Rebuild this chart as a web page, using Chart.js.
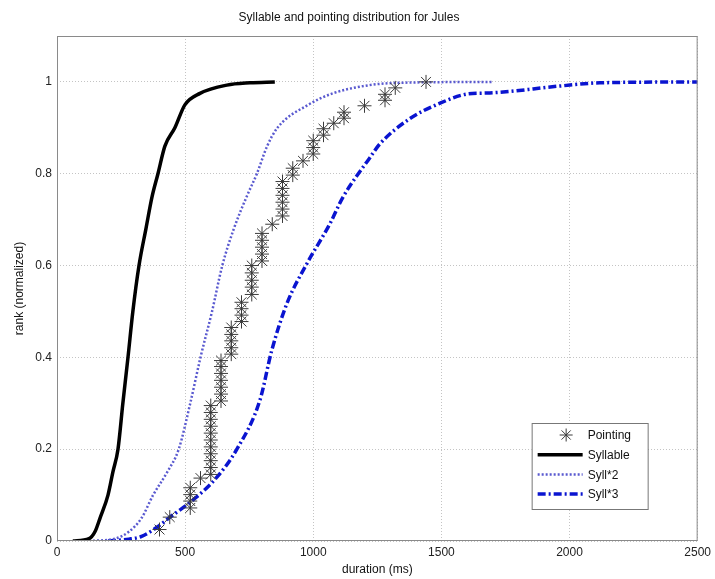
<!DOCTYPE html>
<html>
<head>
<meta charset="utf-8">
<script src="https://cdn.jsdelivr.net/npm/chart.js@4.4.0/dist/chart.umd.min.js"></script>
<style>
  body { margin: 0; background: #fff; }
  #wrap { width: 715px; height: 579px; }
</style>
</head>
<body>
<div id="wrap"><canvas id="myChart"></canvas></div>
<script>
// durations (ms) and normalized ranks
var syllX = [62, 125, 148, 168, 199, 218, 238, 257, 277, 296, 320, 347, 371, 394, 421, 460, 499, 558, 663, 753, 850];
var syllY = [0, 0.005, 0.02, 0.05, 0.1, 0.15, 0.2, 0.3, 0.4, 0.5, 0.6, 0.68, 0.75, 0.8, 0.86, 0.9, 0.95, 0.975, 0.993, 0.998, 1.0];

var syll2X = [125, 225, 280, 330, 375, 430, 475, 520, 560, 605, 645, 690, 740, 780, 820, 860, 980, 1076, 1220, 1330, 1700];
var syll2Y = [0, 0.005, 0.02, 0.05, 0.1, 0.15, 0.2, 0.3, 0.4, 0.5, 0.6, 0.68, 0.75, 0.8, 0.86, 0.9, 0.95, 0.975, 0.993, 0.998, 1.0];

var syll3X = [199, 280, 330, 390, 441, 530, 624, 702, 792, 838, 897, 975, 1065, 1115, 1221, 1260, 1377, 1488, 1605, 1689, 1962, 2118, 2500];
var syll3Y = [0, 0.004, 0.01, 0.03, 0.052, 0.089, 0.139, 0.2, 0.307, 0.415, 0.517, 0.604, 0.691, 0.748, 0.835, 0.865, 0.92, 0.952, 0.974, 0.976, 0.991, 0.998, 1.0];

var pointX = [400, 440, 520, 520, 520, 520, 560,
  600, 600, 600, 600, 600, 600, 600, 600, 600, 600, 600,
  640, 640, 640, 640, 640, 640, 640,
  680, 680, 680, 680, 680,
  720, 720, 720, 720,
  760, 760, 760, 760, 760,
  800, 800, 800, 800, 800,
  840,
  880, 880, 880, 880, 880, 880,
  920, 920, 960, 1000, 1000, 1000, 1040, 1040, 1080, 1120, 1120,
  1200, 1280, 1280, 1320, 1440];
var pointY = [0.025, 0.052, 0.072, 0.087, 0.101, 0.116, 0.137,
  0.145, 0.160, 0.175, 0.190, 0.205, 0.220, 0.235, 0.250, 0.265, 0.280, 0.295,
  0.305, 0.320, 0.335, 0.350, 0.365, 0.380, 0.393,
  0.407, 0.421, 0.436, 0.450, 0.465,
  0.478, 0.492, 0.506, 0.520,
  0.537, 0.553, 0.568, 0.584, 0.600,
  0.610, 0.625, 0.640, 0.655, 0.670,
  0.690,
  0.708, 0.723, 0.738, 0.753, 0.768, 0.783,
  0.797, 0.812, 0.828, 0.843, 0.857, 0.872, 0.884, 0.898, 0.910, 0.921, 0.934,
  0.948, 0.960, 0.973, 0.987, 1.0];

var xTicks = [0, 500, 1000, 1500, 2000, 2500];
var yTicks = [0, 0.2, 0.4, 0.6, 0.8, 1];

function toPoints(xs, ys) {
    return xs.map(function (x, i) { return { x: x, y: ys[i] }; });
}

var FONT = "'Liberation Sans', Arial, sans-serif";

// grey box round the plot area
var frame = {
    id: 'frame',
    afterDraw: function (chart) {
        var c = chart.ctx, a = chart.chartArea;
        c.save();
        c.strokeStyle = '#8a8a8a';
        c.lineWidth = 1;
        c.strokeRect(a.left + 0.5, a.top + 0.5, a.right - a.left - 1, a.bottom - a.top - 1);
        c.restore();
    }
};

// matlab-like legend inside the axes, bottom right
var boxLegend = {
    id: 'boxLegend',
    afterDraw: function (chart) {
        var c = chart.ctx, a = chart.chartArea;
        var w = 116, h = 86;
        var x0 = a.right - 50 - w, y0 = a.bottom - 32 - h;
        c.save();
        c.fillStyle = '#fff';
        c.fillRect(x0, y0, w, h);
        c.strokeStyle = '#777';
        c.lineWidth = 1;
        c.strokeRect(x0 + 0.5, y0 + 0.5, w, h);
        c.font = '12px ' + FONT;
        c.textBaseline = 'middle';
        chart.data.datasets.forEach(function (ds, i) {
            var yy = y0 + 12 + i * 19.7;
            var sx = x0 + 6, ex = x0 + 51;
            if (ds.showLine === false) {
                var cx = (sx + ex) / 2 + 6, r = 6.5;
                c.strokeStyle = ds.borderColor;
                c.lineWidth = 1;
                c.beginPath();
                c.moveTo(cx - r, yy); c.lineTo(cx + r, yy);
                c.moveTo(cx, yy - r); c.lineTo(cx, yy + r);
                var d = r * 0.7071;
                c.moveTo(cx - d, yy - d); c.lineTo(cx + d, yy + d);
                c.moveTo(cx - d, yy + d); c.lineTo(cx + d, yy - d);
                c.stroke();
            } else {
                c.strokeStyle = ds.borderColor;
                c.lineWidth = ds.borderWidth;
                c.setLineDash(ds.borderDash || []);
                c.beginPath();
                c.moveTo(sx, yy); c.lineTo(ex, yy);
                c.stroke();
                c.setLineDash([]);
            }
            c.fillStyle = '#111';
            c.fillText(ds.label, x0 + 56, yy + 1);
        });
        c.restore();
    }
};

function plainLabel(v) { return String(v); }

var ctx = document.getElementById('myChart').getContext('2d');
var chart = new Chart(ctx, {
    type: 'scatter',
    data: {
        datasets: [
            {
                label: 'Pointing',
                data: toPoints(pointX, pointY),
                showLine: false,
                pointStyle: 'star',
                pointRadius: 7,
                pointBorderWidth: 1,
                borderColor: '#3a3a3a',
                backgroundColor: '#3a3a3a'
            },
            {
                label: 'Syllable',
                data: toPoints(syllX, syllY),
                showLine: true,
                borderColor: '#000',
                borderWidth: 3.5,
                pointRadius: 0,
                cubicInterpolationMode: 'monotone'
            },
            {
                label: 'Syll*2',
                data: toPoints(syll2X, syll2Y),
                showLine: true,
                borderColor: '#5a5ad0',
                borderWidth: 2.5,
                borderDash: [2, 2],
                pointRadius: 0,
                cubicInterpolationMode: 'monotone'
            },
            {
                label: 'Syll*3',
                data: toPoints(syll3X, syll3Y),
                showLine: true,
                borderColor: '#0a14d0',
                borderWidth: 3.5,
                borderDash: [8, 3, 2, 3],
                pointRadius: 0,
                cubicInterpolationMode: 'monotone'
            }
        ]
    },
    options: {
        responsive: true,
        maintainAspectRatio: false,
        animation: false,
        layout: { padding: { left: 0, right: 17, top: 0, bottom: 0 } },
        plugins: {
            legend: { display: false },
            tooltip: { enabled: false },
            title: {
                display: true,
                text: 'Syllable and pointing distribution for Jules',
                color: '#111',
                font: { family: FONT, size: 12, weight: 'normal' },
                padding: { top: 10, bottom: 11.6 }
            }
        },
        scales: {
            x: {
                type: 'linear',
                min: 0,
                max: 2500,
                afterBuildTicks: function (scale) {
                    scale.ticks = xTicks.map(function (v) { return { value: v }; });
                },
                afterFit: function (scale) { scale.height = 38; },
                ticks: { color: '#222', font: { family: FONT, size: 12 }, padding: 4, maxRotation: 0, callback: plainLabel },
                grid: { color: '#c4c4c4', lineWidth: 1, drawTicks: false },
                border: { display: false, dash: [1, 2] },
                title: {
                    display: true,
                    text: 'duration (ms)',
                    color: '#111',
                    font: { family: FONT, size: 12 },
                    padding: { top: 0, bottom: 2 }
                }
            },
            y: {
                type: 'linear',
                min: 0,
                max: 1.1,
                afterBuildTicks: function (scale) {
                    scale.ticks = yTicks.map(function (v) { return { value: v }; });
                },
                afterFit: function (scale) { scale.width = 57; },
                ticks: { color: '#222', font: { family: FONT, size: 12 }, padding: 5, callback: plainLabel },
                grid: { color: '#c4c4c4', lineWidth: 1, drawTicks: false },
                border: { display: false, dash: [1, 2] },
                title: {
                    display: true,
                    text: 'rank (normalized)',
                    color: '#111',
                    font: { family: FONT, size: 12 },
                    padding: { top: 12, bottom: 0 }
                }
            }
        }
    },
    plugins: [frame, boxLegend]
});
</script>
</body>
</html>
